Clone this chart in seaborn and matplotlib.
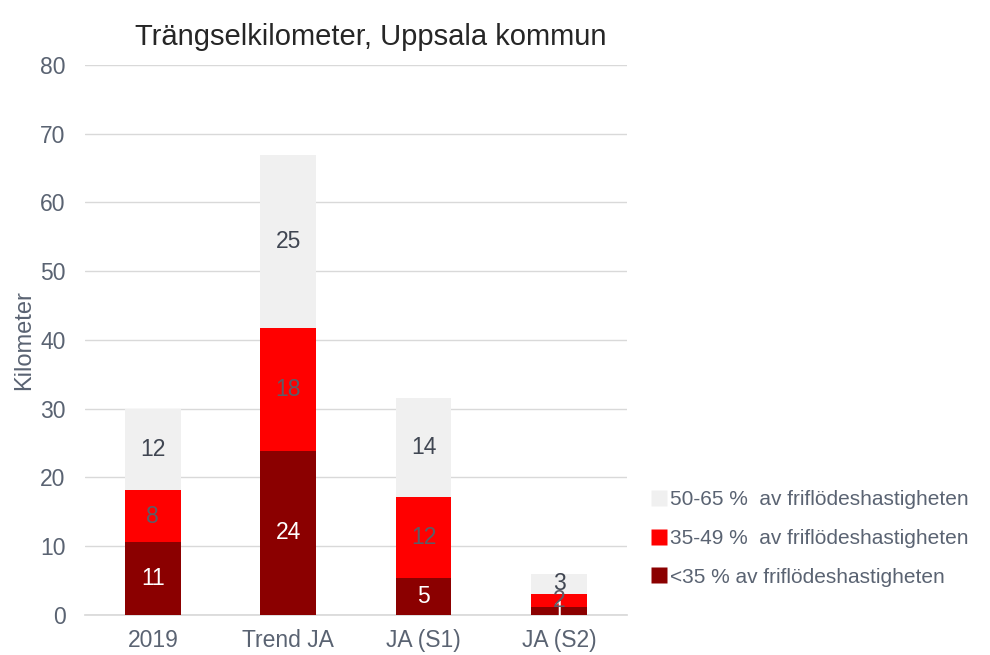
import matplotlib
matplotlib.use("Agg")
import matplotlib.pyplot as plt
from matplotlib.lines import Line2D
import seaborn as sns
import pandas as pd

# Congestion kilometres per scenario, split by speed relative to free-flow speed
categories = ["2019", "Trend JA", "JA (S1)", "JA (S2)"]
below_35 = [10.6, 23.9, 5.4, 1.1]
from_35_to_49 = [7.6, 17.8, 11.8, 2.0]
from_50_to_65 = [11.8, 25.2, 14.4, 2.9]

series_names = [
    "50-65 %  av friflödeshastigheten",
    "35-49 %  av friflödeshastigheten",
    "<35 % av friflödeshastigheten",
]
colors = {"light": "#f0f0f0", "red": "#ff0000", "dark": "#8b0000"}
text_color = "#5a6372"

sns.set_theme(style="white")
plt.rcParams["font.family"] = ["Liberation Sans", "DejaVu Sans"]

df = pd.DataFrame({
    "kategori": categories,
    "dark": below_35,
    "red": from_35_to_49,
    "light": from_50_to_65,
})
df["cum_dark"] = df["dark"]
df["cum_red"] = df["dark"] + df["red"]
df["cum_light"] = df["cum_red"] + df["light"]

fig = plt.figure(figsize=(9.9, 6.55), dpi=100)
ax = fig.add_axes([0.086, 0.061, 0.547, 0.840])

# Stacked bars: draw cumulative totals back to front
bar_w = 0.41
for cum, key in [("cum_light", "light"), ("cum_red", "red"), ("cum_dark", "dark")]:
    sns.barplot(data=df, x="kategori", y=cum, color=colors[key], width=bar_w,
                saturation=1, ax=ax, zorder=3, edgecolor="none")

# Segment value labels
label_colors = {"dark": "white", "red": "#5c5c66", "light": "#404652"}
for i in range(len(categories)):
    base = 0.0
    for key in ["dark", "red", "light"]:
        v = df.loc[i, key]
        ax.text(i, base + v / 2, f"{v:.0f}", ha="center", va="center",
                fontsize=16.5, color=label_colors[key], zorder=5)
        base += v

ax.set_ylim(0, 80)
ax.set_yticks(range(0, 81, 10))
ax.set_xlim(-0.5, 3.5)
ax.yaxis.grid(True, color="#d9d9d9", linewidth=1)
ax.set_axisbelow(True)
for s in ["top", "right", "left"]:
    ax.spines[s].set_visible(False)
ax.spines["bottom"].set_color("#d9d9d9")
ax.tick_params(axis="y", length=0, labelsize=16.5, labelcolor=text_color, pad=14)
ax.tick_params(axis="x", length=0, labelsize=16.5, labelcolor=text_color, pad=10)
ax.set_xlabel("")
ax.set_ylabel("Kilometer", fontsize=17, color=text_color, labelpad=4)
ax.set_title("Trängselkilometer, Uppsala kommun", fontsize=21, color="#262626",
             pad=14, x=0.528)

handles = [
    Line2D([], [], marker="s", linestyle="none", markersize=11,
           markerfacecolor=colors[k], markeredgecolor="none")
    for k in ["light", "red", "dark"]
]
fig.legend(handles, series_names, loc="center left", bbox_to_anchor=(0.638, 0.178),
           frameon=False, fontsize=15, labelcolor=text_color, handletextpad=0.15,
           labelspacing=0.95, handlelength=0.8)

fig.savefig("out.png", dpi=100)
